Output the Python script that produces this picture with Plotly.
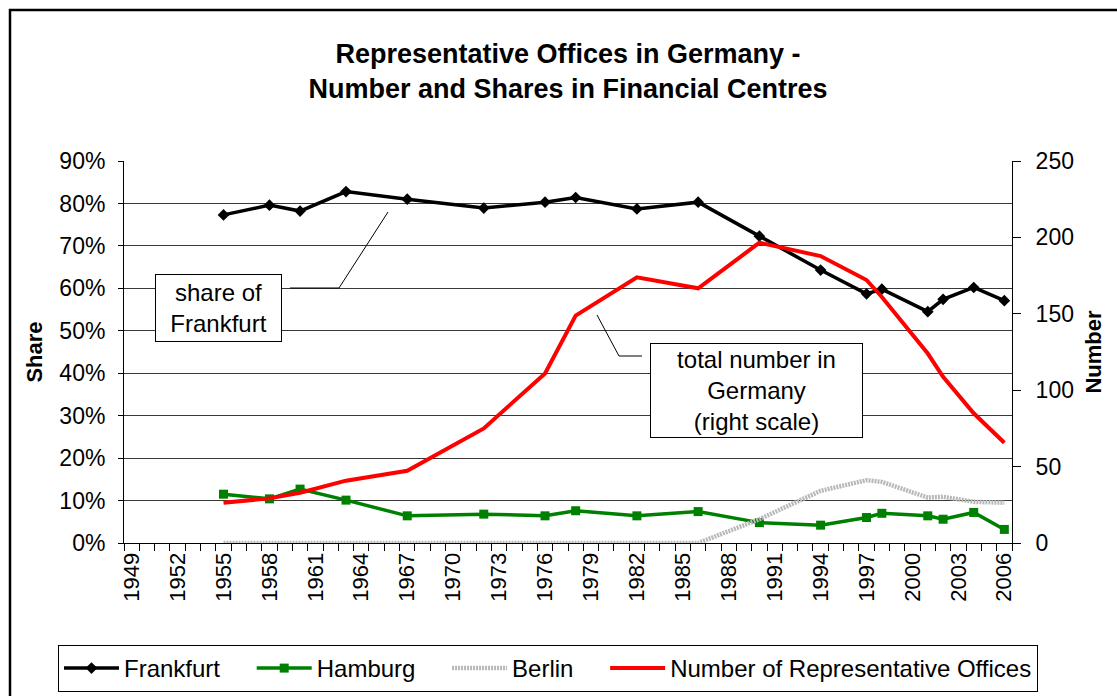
import plotly.graph_objects as go

# ---- data ----
all_years = [str(y) for y in range(1949, 2007)]
label_years = [str(y) for y in range(1949, 2007, 3)]
data_years = ["1955", "1958", "1960", "1963", "1967", "1972", "1976", "1978", "1982",
              "1986", "1990", "1994", "1997", "1998", "2001", "2002", "2004", "2006"]
frankfurt = [0.773, 0.796, 0.782, 0.828, 0.810, 0.789, 0.803, 0.814, 0.787,
             0.803, 0.723, 0.643, 0.587, 0.598, 0.545, 0.574, 0.602, 0.571]
hamburg = [0.115, 0.104, 0.127, 0.101, 0.064, 0.068, 0.064, 0.076, 0.064,
           0.074, 0.048, 0.042, 0.060, 0.070, 0.064, 0.056, 0.072, 0.032]
berlin = [0, 0, 0, 0, 0, 0, 0, 0, 0,
          0, 0.056, 0.123, 0.148, 0.144, 0.107, 0.109, 0.097, 0.095]
number_offices = [26.4, 29.2, 32.9, 40.8, 47.3, 75, 111, 148.8, 173.9,
                  166.7, 196.5, 187.8, 172.1, 161, 124, 108.8, 84.9, 65.6]
series_names = ["Frankfurt", "Hamburg", "Berlin", "Number of Representative Offices"]

FONT = "Liberation Sans, Arial, sans-serif"

W, H = 1117, 696
L, R, T, B = 124, 1012, 161, 543  # plot area pixels


def px(x):
    return (x - L) / (R - L)


def py(y):
    return (B - y) / (B - T)


PAD = "\u00a0" * 4  # spacing between legend entries

fig = go.Figure()
fig.add_trace(go.Scatter(x=data_years, y=frankfurt, name=series_names[0] + PAD, mode="lines+markers",
                         line=dict(color="black", width=3.5),
                         marker=dict(symbol="diamond", size=9, color="black")))
fig.add_trace(go.Scatter(x=data_years, y=hamburg, name=series_names[1] + PAD, mode="lines+markers",
                         line=dict(color="#008000", width=3.5),
                         marker=dict(symbol="square", size=9, color="#008000")))
fig.add_trace(go.Scatter(x=data_years, y=berlin, name=series_names[2] + PAD, mode="lines",
                         line=dict(color="#b8b8b8", width=4.5, dash="2px,1px")))
fig.add_trace(go.Scatter(x=data_years, y=number_offices, name=series_names[3],
                         mode="lines", yaxis="y2",
                         line=dict(color="#ff0000", width=4)))

ticktext = [y if y in label_years else "" for y in all_years]

fig.update_layout(
    width=W, height=H,
    margin=dict(l=L, r=W - R, t=T, b=H - B, pad=0, autoexpand=False),
    paper_bgcolor="white", plot_bgcolor="white",
    font=dict(family=FONT, color="black", size=22),
    title=dict(text="<b>Representative Offices in Germany -<br>Number and Shares in Financial Centres</b>",
               x=568 / W, xanchor="center", y=1 - 63 / H, yanchor="middle",
               font=dict(family=FONT, size=27, color="black")),
    xaxis=dict(type="category", categoryorder="array", categoryarray=all_years,
               range=[-0.5, len(all_years) - 0.5],
               tickmode="array", tickvals=all_years, ticktext=ticktext,
               tickson="boundaries", ticks="outside", ticklen=7, tickcolor="black",
               tickangle=-90, tickfont=dict(size=22),
               showline=True, linecolor="black", linewidth=1,
               showgrid=False, zeroline=False),
    yaxis=dict(range=[0, 0.9], dtick=0.1, tickformat=".0%",
               ticks="outside", ticklen=5, tickcolor="black", ticklabelstandoff=8,
               tickfont=dict(size=23),
               showline=True, linecolor="black", linewidth=1,
               showgrid=True, gridcolor="#383838", gridwidth=1, zeroline=False,
               title=dict(text="<b>Share</b>", font=dict(size=22), standoff=10)),
    yaxis2=dict(range=[0, 250], dtick=50, overlaying="y", side="right",
                ticks="outside", ticklen=8, tickcolor="black", ticklabelstandoff=10,
                tickfont=dict(size=23),
                showline=True, linecolor="black", linewidth=1,
                showgrid=False, zeroline=False,
                title=dict(text="<b>Number</b>", font=dict(size=22), standoff=12)),
    legend=dict(orientation="h", xref="paper", yref="paper",
                x=px(58), xanchor="left", y=py(645), yanchor="top",
                bordercolor="black", borderwidth=1, bgcolor="white",
                font=dict(size=24), itemwidth=55, tracegroupgap=0),
    showlegend=True,
)

# outer chart border
fig.add_shape(type="rect", xref="paper", yref="paper",
              x0=px(10), x1=px(1125), y0=py(10), y1=py(705),
              line=dict(color="black", width=2.5), fillcolor="rgba(0,0,0,0)", layer="below")

# leader lines
fig.add_shape(type="path", xref="paper", yref="paper",
              path=f"M {px(290)} {py(288)} L {px(339)} {py(288)} L {px(388)} {py(212)}",
              line=dict(color="black", width=1))
fig.add_shape(type="path", xref="paper", yref="paper",
              path=f"M {px(597)} {py(315)} L {px(619)} {py(356)} L {px(642)} {py(356)}",
              line=dict(color="black", width=1))

# annotation boxes
fig.add_annotation(xref="paper", yref="paper", x=px(218.5), y=py(308),
                   xanchor="center", yanchor="middle",
                   text="share of<br>Frankfurt", showarrow=False,
                   font=dict(size=24, color="black"), align="center",
                   bgcolor="white", bordercolor="black", borderwidth=1, borderpad=0,
                   width=125, height=66)
fig.add_annotation(xref="paper", yref="paper", x=px(756.5), y=py(390),
                   xanchor="center", yanchor="middle",
                   text="total number in<br>Germany<br>(right scale)", showarrow=False,
                   font=dict(size=24, color="black"), align="center",
                   bgcolor="white", bordercolor="black", borderwidth=1, borderpad=0,
                   width=211, height=93)

fig.write_html("out.html", config={"displayModeBar": False},
               post_script="document.body.style.margin='0px';")
